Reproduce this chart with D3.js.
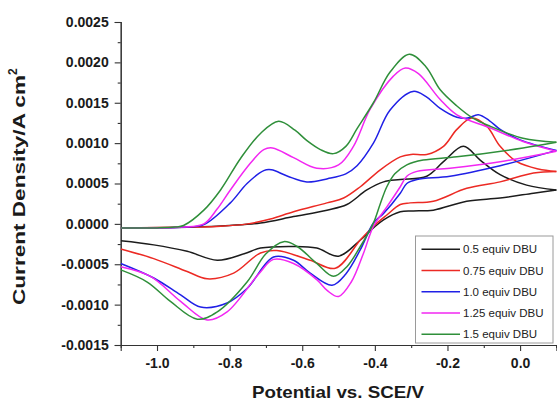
<!DOCTYPE html>
<html>
<head>
<meta charset="utf-8">
<script src="https://cdn.jsdelivr.net/npm/d3@7"></script>
<style>
  body { margin: 0; background: #fff; }
  svg { display: block; font-family: "Liberation Sans", Arial, sans-serif; }
</style>
</head>
<body>
<svg width="557" height="401"></svg>
<script>
// axis ticks
const potentialTicks = [-1.0, -0.8, -0.6, -0.4, -0.2, 0.0];
const potentialMinor = [-0.9, -0.7, -0.5, -0.3, -0.1, 0.1];
const currentTicks = [-0.0015, -0.0010, -0.0005, 0.0000, 0.0005, 0.0010, 0.0015, 0.0020, 0.0025];
const currentMinor = [-0.00125, -0.00075, -0.00025, 0.00025, 0.00075, 0.00125, 0.00175, 0.00225];

const seriesNames = ["0.5 equiv DBU", "0.75 equiv DBU", "1.0 equiv DBU", "1.25 equiv DBU", "1.5 equiv DBU"];

// [potential V, current density A cm-2], forward scan (upper branch) and reverse scan (lower branch)
const dbu050Fwd = [[-1.1, -0.00005], [-0.9, -0.00004], [-0.8, -0.00002], [-0.715, 0.00001], [-0.624, 0.00009], [-0.532, 0.00017],
  [-0.477, 0.00024], [-0.422, 0.00042], [-0.376, 0.00052], [-0.33, 0.00055], [-0.257, 0.00059], [-0.211, 0.00077],
  [-0.156, 0.00096], [-0.11, 0.00079], [-0.055, 0.00061], [0.018, 0.00048], [0.1, 0.00042]];
const dbu050Rev = [[0.1, 0.00042], [0.037, 0.00038], [-0.055, 0.00032], [-0.147, 0.00028], [-0.239, 0.00017], [-0.294, 0.00016],
  [-0.33, 0.00015], [-0.376, 0.00005], [-0.404, -0.00005], [-0.44, -0.0002], [-0.5, -0.0004], [-0.56, -0.0003],
  [-0.624, -0.00028], [-0.715, -0.0003], [-0.76, -0.00037], [-0.834, -0.00045], [-0.917, -0.00034], [-1.009, -0.00026], [-1.1, -0.00021]];

const dbu075Fwd = [[-1.1, -0.00005], [-0.9, -0.00004], [-0.825, -0.00003], [-0.75, 0.0], [-0.688, 0.00006], [-0.624, 0.00015],
  [-0.532, 0.00026], [-0.486, 0.00032], [-0.44, 0.00046], [-0.385, 0.00067], [-0.33, 0.00083], [-0.3, 0.00086],
  [-0.257, 0.00086], [-0.211, 0.00096], [-0.174, 0.00117], [-0.133, 0.00131], [-0.092, 0.00121], [-0.055, 0.00096],
  [-0.009, 0.00077], [0.05, 0.00068], [0.1, 0.00065]];
const dbu075Rev = [[0.1, 0.00065], [0.037, 0.00063], [-0.055, 0.00052], [-0.147, 0.00044], [-0.239, 0.00028], [-0.303, 0.00026],
  [-0.33, 0.00024], [-0.367, 0.00011], [-0.404, -0.00003], [-0.44, -0.0002], [-0.509, -0.00055], [-0.578, -0.00045],
  [-0.67, -0.00033], [-0.715, -0.00036], [-0.789, -0.00061], [-0.862, -0.00068], [-0.917, -0.00059], [-1.009, -0.00043], [-1.1, -0.00031]];

const dbu100Fwd = [[-1.1, -0.00005], [-1.0, -0.00005], [-0.92, -0.00004], [-0.871, -0.00001], [-0.798, 0.00026], [-0.752, 0.0005],
  [-0.706, 0.00066], [-0.685, 0.00067], [-0.64, 0.00059], [-0.587, 0.00052], [-0.53, 0.00056], [-0.48, 0.00062],
  [-0.449, 0.00072], [-0.404, 0.001], [-0.358, 0.00141], [-0.295, 0.00164], [-0.26, 0.00158], [-0.22, 0.00143],
  [-0.174, 0.00132], [-0.145, 0.00131], [-0.115, 0.00135], [-0.085, 0.00128], [-0.055, 0.00117], [0.0, 0.00104], [0.1, 0.00091]];
const dbu100Rev = [[0.1, 0.00091], [-0.055, 0.00072], [-0.193, 0.00059], [-0.284, 0.00055], [-0.312, 0.0005], [-0.33, 0.00038],
  [-0.376, 0.00013], [-0.404, 0.00001], [-0.44, -0.00032], [-0.48, -0.00062], [-0.518, -0.00076], [-0.578, -0.00061],
  [-0.624, -0.00045], [-0.679, -0.00041], [-0.752, -0.0008], [-0.807, -0.00098], [-0.88, -0.00103], [-0.935, -0.00088],
  [-1.009, -0.00067], [-1.1, -0.00049]];

const dbu125Fwd = [[-1.1, -0.00005], [-1.0, -0.00005], [-0.93, -0.00004], [-0.871, 0.0], [-0.835, 0.00018], [-0.798, 0.00042],
  [-0.743, 0.00075], [-0.706, 0.00092], [-0.682, 0.00094], [-0.624, 0.00082], [-0.56, 0.00069], [-0.5, 0.00073],
  [-0.459, 0.00096], [-0.413, 0.00142], [-0.349, 0.00183], [-0.316, 0.00193], [-0.28, 0.00186], [-0.22, 0.00154],
  [-0.174, 0.00135], [-0.083, 0.00119], [0.008, 0.00102], [0.1, 0.0009]];
const dbu125Rev = [[0.1, 0.0009], [-0.055, 0.00077], [-0.193, 0.00069], [-0.284, 0.00065], [-0.312, 0.00059], [-0.33, 0.00046],
  [-0.367, 0.00021], [-0.404, -0.00003], [-0.431, -0.00036], [-0.465, -0.00072], [-0.5, -0.0009], [-0.53, -0.00083],
  [-0.56, -0.00069], [-0.624, -0.00049], [-0.679, -0.00044], [-0.72, -0.00062], [-0.807, -0.00109], [-0.862, -0.00119],
  [-0.935, -0.00096], [-1.018, -0.00065], [-1.1, -0.00053]];

const dbu150Fwd = [[-1.1, -0.00005], [-1.0, -0.00005], [-0.95, -0.00004], [-0.927, -0.00002], [-0.871, 0.00017], [-0.825, 0.00042],
  [-0.77, 0.00081], [-0.715, 0.00112], [-0.665, 0.00127], [-0.62, 0.00116], [-0.587, 0.00103], [-0.55, 0.00092],
  [-0.514, 0.00087], [-0.48, 0.00096], [-0.449, 0.00118], [-0.404, 0.0015], [-0.358, 0.00188], [-0.305, 0.0021],
  [-0.26, 0.00195], [-0.22, 0.00166], [-0.174, 0.00146], [-0.13, 0.00131], [-0.083, 0.00121], [0.008, 0.00106], [0.1, 0.00101]];
const dbu150Rev = [[0.1, 0.00101], [0.008, 0.00094], [-0.174, 0.00083], [-0.267, 0.00079], [-0.312, 0.00073], [-0.345, 0.00062],
  [-0.367, 0.00046], [-0.385, 0.00025], [-0.404, 0.00001], [-0.44, -0.00028], [-0.477, -0.00053], [-0.514, -0.00065],
  [-0.56, -0.00049], [-0.614, -0.00028], [-0.651, -0.00022], [-0.7, -0.00037], [-0.752, -0.00072], [-0.834, -0.00109],
  [-0.889, -0.00118], [-0.963, -0.00096], [-1.027, -0.00072], [-1.1, -0.00057]];

let series = [
    { name: seriesNames[0], fwd: dbu050Fwd, rev: dbu050Rev },
    { name: seriesNames[1], fwd: dbu075Fwd, rev: dbu075Rev },
    { name: seriesNames[2], fwd: dbu100Fwd, rev: dbu100Rev },
    { name: seriesNames[3], fwd: dbu125Fwd, rev: dbu125Rev },
    { name: seriesNames[4], fwd: dbu150Fwd, rev: dbu150Rev }
];

let colors = d3.scaleOrdinal()
    .domain(seriesNames)
    .range(["#1c1c1c", "#ec2a24", "#2020e6", "#f227f2", "#2f8f3a"]);

let svg = d3.select("svg"),
    plotLeft = 120.7, plotRight = 556.4, plotTop = 22, plotBottom = 345;

let x = d3.scaleLinear().domain([-1.1, 0.1]).range([plotLeft, plotRight]);
let y = d3.scaleLinear().domain([-0.0015, 0.0025]).range([plotBottom, plotTop]);

svg.append("rect").attr("width", 557).attr("height", 401).attr("fill", "#fff");

svg.append("clipPath").attr("id", "plot")
    .append("rect")
    .attr("x", plotLeft).attr("y", plotTop - 2)
    .attr("width", plotRight - plotLeft + 2).attr("height", plotBottom - plotTop + 2);

// minor ticks
svg.append("g")
    .attr("class", "axis")
    .attr("transform", "translate(0," + plotBottom + ")")
    .call(d3.axisBottom(x).tickValues(potentialMinor).tickSize(3).tickFormat(""));
svg.append("g")
    .attr("class", "axis")
    .attr("transform", "translate(" + plotLeft + ",0)")
    .call(d3.axisLeft(y).tickValues(currentMinor).tickSize(3).tickFormat(""));

// major ticks
svg.append("g")
    .attr("class", "axis")
    .attr("transform", "translate(0," + plotBottom + ")")
    .call(d3.axisBottom(x).tickValues(potentialTicks).tickSize(6).tickPadding(7)
        .tickFormat(d => d.toFixed(1)));
svg.append("g")
    .attr("class", "axis")
    .attr("transform", "translate(" + plotLeft + ",0)")
    .call(d3.axisLeft(y).tickValues(currentTicks).tickSize(6).tickPadding(6)
        .tickFormat(d => d.toFixed(4)));

svg.selectAll(".axis path, .axis line").attr("stroke", "#333").attr("stroke-width", 1.1);
svg.selectAll(".axis text")
    .attr("fill", "#1a1a1a")
    .style("font-size", "14px")
    .style("font-weight", "bold")
    .style("font-family", "'Liberation Sans', Arial, sans-serif");

// curves
let line = d3.line()
    .x(d => x(d[0]))
    .y(d => y(d[1]))
    .curve(d3.curveCatmullRom.alpha(0.5));

let curves = svg.append("g").attr("clip-path", "url(#plot)");
series.forEach(function (s) {
    [s.fwd, s.rev].forEach(function (branch) {
        curves.append("path")
            .attr("d", line(branch))
            .attr("fill", "none")
            .attr("stroke", colors(s.name))
            .attr("stroke-width", 1.5);
    });
});

// axis titles
svg.append("text")
    .attr("x", 338)
    .attr("y", 398)
    .attr("text-anchor", "middle")
    .attr("textLength", 172)
    .attr("lengthAdjust", "spacingAndGlyphs")
    .style("font-size", "17px")
    .style("font-weight", "bold")
    .attr("fill", "#1a1a1a")
    .text("Potential vs. SCE/V");

let ytitle = svg.append("text")
    .attr("transform", "translate(25,305) rotate(-90)")
    .style("font-size", "17px")
    .style("font-weight", "bold")
    .attr("fill", "#1a1a1a");
ytitle.append("tspan")
    .attr("textLength", 230)
    .attr("lengthAdjust", "spacingAndGlyphs")
    .text("Current Density/A cm");
ytitle.append("tspan")
    .attr("dy", -8)
    .style("font-size", "12px")
    .text("2");

// legend
let legend = svg.append("g");
legend.append("rect")
    .attr("x", 415.5).attr("y", 236)
    .attr("width", 137.5).attr("height", 107)
    .attr("fill", "#fff")
    .attr("stroke", "#9a9a9a")
    .attr("stroke-width", 1);

let items = legend.selectAll("g.item")
    .data(seriesNames)
    .enter().append("g")
    .attr("class", "item")
    .attr("transform", (d, i) => "translate(0," + (249.3 + i * 21.25) + ")");
items.append("line")
    .attr("x1", 421.5).attr("x2", 460)
    .attr("stroke", d => colors(d))
    .attr("stroke-width", 1.5);
items.append("text")
    .attr("x", 463)
    .attr("dy", "0.36em")
    .style("font-size", "11.5px")
    .attr("fill", "#222")
    .text(d => d);
</script>
</body>
</html>
